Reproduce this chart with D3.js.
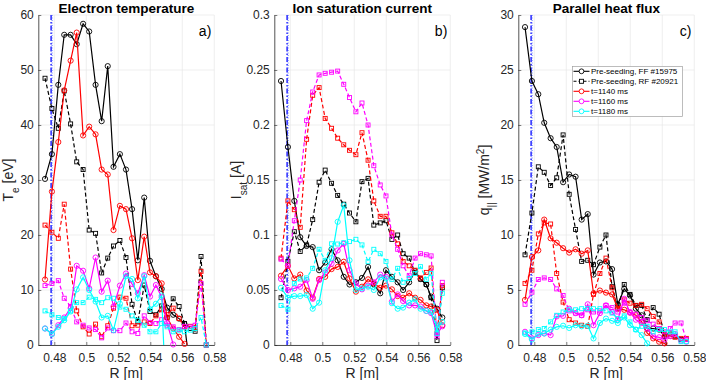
<!DOCTYPE html>
<html>
<head>
<meta charset="utf-8">
<script src="https://d3js.org/d3.v7.min.js"></script>
<style>
body { margin: 0; background: #fff; }
svg { font-family: "Liberation Sans", Arial, sans-serif; }
</style>
</head>
<body>
<svg class="chart"></svg>
<script>
// probe positions (shared by all series)
var R = [0.4742, 0.4785, 0.4825, 0.4862, 0.4902, 0.4940, 0.4980, 0.5018, 0.5058, 0.5096,
         0.5134, 0.5170, 0.5210, 0.5248, 0.5286, 0.5322, 0.5362, 0.5398, 0.5435, 0.5471,
         0.5505, 0.5543, 0.5580, 0.5614, 0.5650, 0.5680, 0.5717, 0.5750];
var rTicks = [0.48, 0.5, 0.52, 0.54, 0.56, 0.58];
var separatrixR = 0.4780;

var legendNames = ["Pre-seeding, FF #15975", "Pre-seeding, RF #20921", "t=1140 ms", "t=1160 ms", "t=1180 ms"];
var legendColors = ["#000000", "#000000", "#ff0000", "#ff00ff", "#00ffff"];

// a) electron temperature [eV]
var teTicks = [0, 10, 20, 30, 40, 50, 60];
var teFF = [30.2, 34.7, 47.3, 56.4, 56.4, 54.7, 58.4, 57.0, 47.3, 40.7, 50.7, 32.4, 34.7, 31.9, 24.7, 15.4, 26.8, 15.3, 12.5, 10.2, 6.8, 5.5, 4.8, 3.8, -5, null, null, null];
var teRF = [48.5, 43.0, 39.4, 46.2, 40.2, 33.3, 31.9, 20.9, 20.3, 13.1, 15.8, 18.0, 19.0, 15.9, 7.4, 4.2, 10.9, 6.1, 5.5, 7.1, 5.0, 8.4, 7.0, 3.9, 3.0, 2.5, 16.1, 0];
var te1140 = [11.9, 27.9, 36.9, 46.3, 51.7, 56.8, 38.1, 39.7, 38.3, 31.9, 31.0, 20.9, 25.3, 24.7, 19.4, 11.8, 19.7, 13.2, 12.5, 11.2, 5.0, 3.0, 1.5, 0.2, null, null, null, null];
var te1140d = [21.8, 20.5, 19.4, 25.6, 13.8, 6.2, 3.3, 2.0, 3.8, 1.5, 3.5, 6.7, 8.7, 8.5, 3.5, 3.6, 4.2, 3.9, 5.3, 6.4, 5.5, 6.7, 4.8, 3.3, 3.4, 3.2, 13.4, 0];
var te1160 = [3.0, 2.0, 3.6, 5.0, 6.7, 14.4, 13.5, 10.3, 15.9, 9.7, 11.7, 7.0, 10.8, 13.0, 11.1, 9.4, 12.7, 8.8, 10.9, 8.7, 4.0, 0.1, null, null, null, null, null, null];
var te1160d = [10.8, 11.2, 11.7, 8.5, 7.0, 4.2, 3.6, 3.1, 2.8, 1.3, 3.1, 2.6, 2.6, 4.0, 2.4, 2.1, 5.3, 4.1, 3.9, 4.6, 3.6, 3.3, 2.8, 3.4, 3.3, 3.6, 11.2, 0];
var te1180 = [3.0, 2.0, 3.3, 4.5, 6.1, 10.1, 12.3, 10.0, 7.9, 5.0, 5.3, 2.7, 7.5, 12.5, 12.0, 8.5, 12.5, 6.5, 7.5, 9.0, -15, null, null, null, null, null, null, null];
var te1180d = [6.2, 5.5, 5.0, 4.8, 6.2, 7.7, 7.7, 8.7, 8.3, 7.7, 8.6, 8.5, 6.9, 6.5, 5.3, 4.5, 3.6, 2.4, 2.4, 3.9, 3.3, 2.4, 2.7, 2.4, 2.7, 3.0, 5.0, 0];

// b) ion saturation current [A]
var isatTicks = [0, 0.05, 0.1, 0.15, 0.2, 0.25, 0.3];
var isatFF = [0.240, 0.180, 0.131, 0.098, 0.090, 0.089, 0.068, 0.075, 0.087, 0.077, 0.062, 0.055, 0.057, 0.061, 0.071, 0.055, 0.047, 0.068, 0.062, 0.057, 0.050, 0.057, 0.067, 0.060, 0.055, 0.044, 0.033, 0.025];
var isatRF = [0.043, 0.076, 0.103, 0.085, 0.091, 0.114, 0.148, 0.159, 0.147, 0.136, 0.128, 0.120, 0.112, 0.1485, 0.1515, 0.109, 0.111, 0.113, 0.096, 0.100, 0.083, 0.079, 0.066, 0.060, 0.055, 0.043, 0.004, 0.052];
var isat1140 = [0.063, 0.072, 0.0605, 0.064, 0.0495, 0.043, 0.060, 0.062, 0.069, 0.071, 0.0757, 0.0605, 0.0485, 0.053, 0.0597, 0.056, 0.052, 0.054, 0.0506, 0.0445, 0.043, 0.047, 0.043, 0.041, 0.036, 0.035, 0.032, 0.018];
var isat1140d = [0.079, 0.131, 0.123, 0.107, 0.187, 0.227, 0.234, 0.206, 0.197, 0.188, 0.182, 0.177, 0.173, 0.193, 0.168, 0.131, 0.117, 0.117, 0.102, 0.092, 0.076, 0.072, 0.068, 0.061, 0.066, 0.070, 0.011, 0.054];
var isat1160 = [0.060, 0.050, 0.0515, 0.053, 0.059, 0.042, 0.059, 0.066, 0.074, 0.086, 0.092, 0.068, 0.056, 0.0506, 0.054, 0.057, 0.064, 0.062, 0.0395, 0.046, 0.040, 0.036, 0.036, 0.035, 0.031, 0.029, 0.010, 0.017];
var isat1160d = [0.078, 0.072, 0.113, 0.150, 0.204, 0.230, 0.2455, 0.247, 0.248, 0.249, 0.237, 0.225, 0.212, 0.220, 0.200, 0.163, 0.1455, 0.1355, 0.100, 0.087, 0.072, 0.063, 0.079, 0.083, 0.082, 0.081, 0.008, 0.057];
var isat1180 = [0.052, 0.043, 0.0445, 0.0445, 0.0455, 0.033, 0.0385, 0.068, 0.079, 0.112, 0.127, 0.077, 0.050, 0.0515, 0.053, 0.050, 0.0615, 0.0605, 0.038, 0.033, 0.034, 0.0385, 0.0415, 0.033, 0.031, 0.030, 0.015, 0.021];
var isat1180d = [0.036, 0.0325, 0.056, 0.060, 0.061, 0.0697, 0.087, 0.077, 0.092, 0.0918, 0.093, 0.094, 0.0961, 0.091, 0.0757, 0.087, 0.083, 0.076, 0.0597, 0.0697, 0.057, 0.0605, 0.065, 0.0712, 0.0597, 0.065, 0.0105, 0.047];

// c) parallel heat flux [MW/m2]
var qTicks = [0, 5, 10, 15, 20, 25, 30];
var qFF = [28.9, 24.0, 22.8, 20.2, 18.8, 18.0, 14.8, 15.5, 15.3, 11.4, 11.9, 6.4, 7.5, 7.6, 6.9, 3.7, 5.1, 4.5, 3.3, 2.7, 1.5, 1.5, 1.4, 0.8, -1.5, null, null, null];
var qRF = [8.2, 12.0, 16.2, 15.7, 14.5, 15.2, 19.1, 13.7, 10.5, 7.6, 7.7, 7.3, 8.9, 10.0, 5.3, 3.3, 5.5, 4.6, 3.6, 3.6, 2.3, 3.4, 2.8, 1.0, 1.0, 0.8, 0.5, 0.5];
var q1140 = [4.1, 8.0, 8.6, 11.4, 9.7, 9.3, 8.8, 8.4, 8.7, 8.3, 8.6, 4.7, 4.95, 4.76, 4.6, 3.3, 3.2, 2.95, 2.7, 2.1, 1.1, 0.6, 0.3, 0.15, -0.5, null, null, null];
var q1140d = [5.6, 6.8, 10.1, 11.1, 11.0, 6.5, 3.9, 2.3, 2.0, 1.8, 1.7, 4.6, 6.5, 7.9, 5.2, 3.3, 4.1, 3.8, 3.6, 3.7, 3.3, 2.6, 2.1, 0.9, 0.8, 0.7, 0.6, 0.6];
var q1160 = [1.2, 0.6, 0.9, 1.05, 0.9, 2.6, 2.65, 3.3, 2.9, 2.7, 3.7, 1.8, 2.9, 3.6, 3.0, 2.3, 4.2, 2.95, 2.3, 2.0, 1.5, 0.8, 0.7, 0.5, 0.8, 1.0, 0.4, 0.3];
var q1160d = [3.7, 4.8, 5.95, 6.1, 5.95, 5.1, 4.5, 3.1, 2.9, 2.7, 3.2, 3.0, 3.1, 3.6, 3.4, 3.0, 3.8, 3.0, 2.8, 2.5, 2.2, 1.9, 1.5, 1.2, 1.5, 2.0, 2.0, 0.5];
var q1180 = [1.0, 0.5, 1.0, 1.05, 1.4, 1.65, 1.75, 1.55, 1.8, 1.7, 1.75, 0.6, 2.0, 2.4, 2.2, 2.0, 2.5, 1.8, 1.4, 0.9, 0.15, -0.5, null, null, null, null, null, null];
var q1180d = [1.1, 1.2, 1.4, 1.5, 2.1, 2.7, 3.0, 3.2, 3.2, 3.3, 3.3, 3.3, 3.3, 3.1, 2.9, 2.4, 2.65, 2.1, 1.4, 1.7, 1.7, 1.2, 1.4, 1.4, 1.2, 1.2, 0.3, 0.3];


var chartWidth = 706;
var chartHeight = 380;
var plotTop = 15, plotBottom = 345, plotWidth = 176;
var axisColor = "#262626";

var svg = d3.select(".chart").attr("width", chartWidth).attr("height", chartHeight);

// one entry per line: values, color, dashed (squares) or solid (circles)
function makeSeries(ff, rf, a, ad, b, bd, c, cd) {
	return [
		{ v: ff, color: legendColors[0], dashed: false },
		{ v: rf, color: legendColors[1], dashed: true },
		{ v: a, color: legendColors[2], dashed: false },
		{ v: ad, color: legendColors[2], dashed: true },
		{ v: b, color: legendColors[3], dashed: false },
		{ v: bd, color: legendColors[3], dashed: true },
		{ v: c, color: legendColors[4], dashed: false },
		{ v: cd, color: legendColors[4], dashed: true }
	];
}

var panels = [
	{ left: 38.3, title: "Electron temperature", tag: "a)", ticks: teTicks,
	  series: makeSeries(teFF, teRF, te1140, te1140d, te1160, te1160d, te1180, te1180d),
	  label: [["T", ""], ["e", "sub"], [" [eV]", ""]], labelX: 13 },
	{ left: 274.3, title: "Ion saturation current", tag: "b)", ticks: isatTicks,
	  series: makeSeries(isatFF, isatRF, isat1140, isat1140d, isat1160, isat1160d, isat1180, isat1180d),
	  label: [["I", ""], ["sat", "sub"], [" [A]", ""]], labelX: 241 },
	{ left: 518.3, title: "Parallel heat flux", tag: "c)", ticks: qTicks,
	  series: makeSeries(qFF, qRF, q1140, q1140d, q1160, q1160d, q1180, q1180d),
	  label: [["q", ""], ["||", "sub"], [" [MW/m", ""], ["2", "sup"], ["]", ""]], labelX: 489 }
];

function buildXAxis(g, x) {
	// grid
	g.selectAll(".xgrid").data(rTicks).enter().append("line")
		.attr("x1", function(d) { return x(d); }).attr("x2", function(d) { return x(d); })
		.attr("y1", plotTop).attr("y2", plotBottom)
		.attr("stroke", "#e8e8e8").attr("stroke-width", 0.7);

	var ax = g.append("g")
		.attr("transform", "translate(0," + plotBottom + ")")
		.call(d3.axisBottom(x).tickValues(rTicks).tickSizeInner(-3).tickSizeOuter(0).tickPadding(8).tickFormat(function(d) { return String(d); }));
	ax.select(".domain").attr("stroke", axisColor).attr("stroke-width", 0.8);
	ax.selectAll(".tick line").attr("stroke", axisColor).attr("stroke-width", 0.6);
	ax.selectAll("text").attr("fill", axisColor).style("font-size", "12px");

	//Add text label for x-axis
	g.append("text")
		.attr("x", x.range()[0] + plotWidth / 2)
		.attr("y", 378)
		.style("text-anchor", "middle")
		.style("font-size", "14px")
		.attr("fill", axisColor)
		.text("R [m]");
}

function buildYAxis(g, y, p) {
	g.selectAll(".ygrid").data(p.ticks).enter().append("line")
		.attr("x1", p.left).attr("x2", p.left + plotWidth)
		.attr("y1", function(d) { return y(d); }).attr("y2", function(d) { return y(d); })
		.attr("stroke", "#e8e8e8").attr("stroke-width", 0.7);

	var ax = g.append("g")
		.attr("transform", "translate(" + p.left + ",0)")
		.call(d3.axisLeft(y).tickValues(p.ticks).tickSizeInner(-3).tickSizeOuter(0).tickPadding(4.5).tickFormat(function(d) { return String(d); }));
	ax.select(".domain").attr("stroke", axisColor).attr("stroke-width", 0.8);
	ax.selectAll(".tick line").attr("stroke", axisColor).attr("stroke-width", 0.6);
	ax.selectAll("text").attr("fill", axisColor).style("font-size", "12px");

	//Add Text label for the y-axis
	var t = g.append("text")
		.attr("transform", "translate(" + p.labelX + "," + ((plotTop + plotBottom) / 2) + ") rotate(-90)")
		.style("text-anchor", "middle")
		.style("font-size", "14px")
		.attr("fill", axisColor);
	p.label.forEach(function(part) {
		var s = t.append("tspan").text(part[0]);
		if (part[1] == "sub") s.attr("baseline-shift", "sub").style("font-size", "10px");
		if (part[1] == "sup") s.attr("baseline-shift", "super").style("font-size", "10px");
	});
}

panels.forEach(function(p, pi) {
	var x = d3.scaleLinear().domain([0.47, 0.58]).range([p.left, p.left + plotWidth]);
	var y = d3.scaleLinear().domain([0, p.ticks[p.ticks.length - 1]]).range([plotBottom, plotTop]);
	var g = svg.append("g");

	buildYAxis(g, y, p);
	buildXAxis(g, x);

	g.append("clipPath").attr("id", "clip" + pi).append("rect")
		.attr("x", p.left).attr("y", plotTop).attr("width", plotWidth).attr("height", plotBottom - plotTop);

	// separatrix position
	var sx = x(separatrixR);
	g.append("line").attr("x1", sx).attr("x2", sx).attr("y1", plotTop).attr("y2", plotBottom)
		.attr("stroke", "#0000ff").attr("stroke-width", 1.3).attr("stroke-dasharray", "5,2,1.5,2");
	g.append("line").attr("x1", sx + 1).attr("x2", sx + 1).attr("y1", plotTop).attr("y2", plotBottom)
		.attr("stroke", "#4d66ff").attr("stroke-width", 0.9).attr("stroke-dasharray", "1,1.5");

	var line = d3.line()
		.defined(function(d) { return d[1] != null; })
		.x(function(d) { return x(d[0]); })
		.y(function(d) { return y(d[1]); });

	var yMax = y.domain()[1];
	p.series.forEach(function(s) {
		var pts = R.map(function(r, i) { return [r, s.v[i]]; });
		g.append("path")
			.datum(pts)
			.attr("clip-path", "url(#clip" + pi + ")")
			.attr("fill", "none")
			.attr("stroke", s.color)
			.attr("stroke-width", 1.2)
			.attr("stroke-dasharray", s.dashed ? "4,2.5" : null)
			.attr("d", line);

		var shown = pts.filter(function(d) { return d[1] != null && d[1] >= 0 && d[1] <= yMax; });
		if (s.dashed) {
			g.selectAll(null).data(shown).enter().append("rect")
				.attr("x", function(d) { return x(d[0]) - 2; })
				.attr("y", function(d) { return y(d[1]) - 2; })
				.attr("width", 4).attr("height", 4)
				.attr("fill", "none").attr("stroke", s.color).attr("stroke-width", 0.9);
		} else {
			g.selectAll(null).data(shown).enter().append("circle")
				.attr("cx", function(d) { return x(d[0]); })
				.attr("cy", function(d) { return y(d[1]); })
				.attr("r", 2.6)
				.attr("fill", "none").attr("stroke", s.color).attr("stroke-width", 0.9);
		}
	});

	// title and panel tag
	g.append("text")
		.attr("x", p.left + plotWidth / 2).attr("y", 13)
		.style("text-anchor", "middle").style("font-size", "13.5px").style("font-weight", "bold")
		.attr("fill", "#000")
		.text(p.title);
	g.append("text")
		.attr("x", p.left + plotWidth - 3).attr("y", 36)
		.style("text-anchor", "end").style("font-size", "14px")
		.attr("fill", "#000")
		.text(p.tag);
});

// legend (in panel c)
var legend = svg.append("g").attr("transform", "translate(572.5,66.5)");
legend.append("rect").attr("width", 110).attr("height", 50)
	.attr("fill", "#fff").attr("stroke", "#a0a0a0").attr("stroke-width", 0.7);
legendNames.forEach(function(name, i) {
	var ly = 4.8 + i * 10;
	var row = legend.append("g").attr("transform", "translate(0," + ly + ")");
	var dashed = (i == 1);
	row.append("line").attr("x1", 1).attr("x2", 17).attr("y1", 0).attr("y2", 0)
		.attr("stroke", legendColors[i]).attr("stroke-width", 1.1)
		.attr("stroke-dasharray", dashed ? "3,2" : null);
	if (dashed) {
		row.append("rect").attr("x", 7).attr("y", -2).attr("width", 4).attr("height", 4)
			.attr("fill", "#fff").attr("stroke", legendColors[i]).attr("stroke-width", 0.9);
	} else {
		row.append("circle").attr("cx", 9).attr("cy", 0).attr("r", 2.4)
			.attr("fill", "#fff").attr("stroke", legendColors[i]).attr("stroke-width", 0.9);
	}
	row.append("text").attr("x", 18.5).attr("y", 3)
		.style("font-size", "8px").attr("fill", "#000")
		.text(name);
});
</script>
</body>
</html>
